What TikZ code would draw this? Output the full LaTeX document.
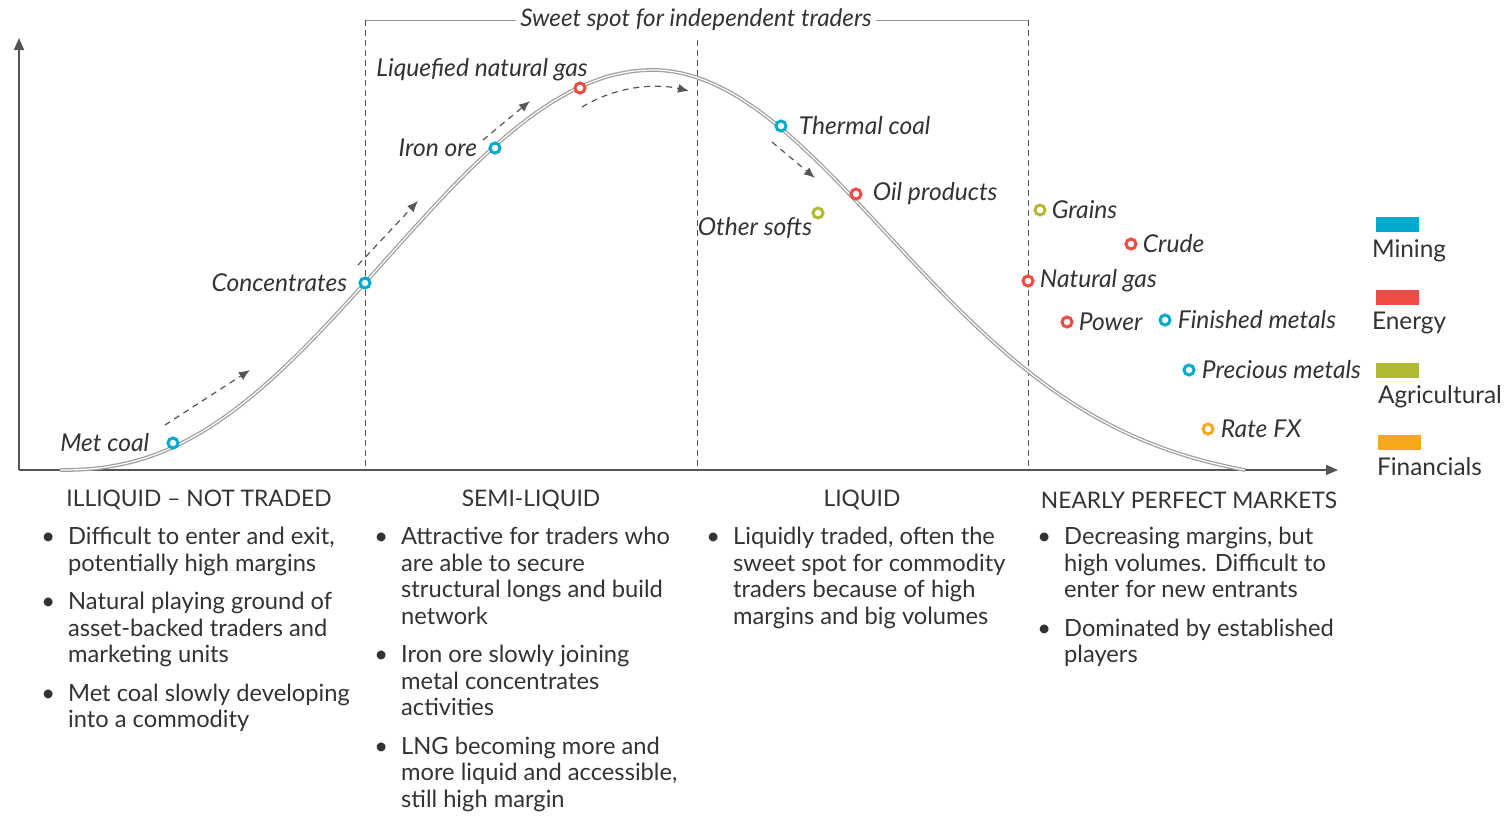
\documentclass[tikz,border=0pt]{standalone}
\usepackage{fontspec}
\setmainfont{Lato}
\usetikzlibrary{arrows.meta,positioning}
\definecolor{ink}{HTML}{333333}
\definecolor{axisgrey}{HTML}{555555}
\definecolor{rulegrey}{HTML}{999999}
\definecolor{curvegrey}{HTML}{A0A0A0}
\definecolor{mining}{HTML}{00A9CE}
\definecolor{energy}{HTML}{EE4C45}
\definecolor{agri}{HTML}{B2B935}
\definecolor{fin}{HTML}{F8A81A}

\begin{document}
\begin{tikzpicture}[x=0.5pt, y=-0.5pt,
    every node/.style={text=ink},
    lbl/.style={font=\fontsize{12.3}{14}\selectfont\itshape, inner sep=1pt},
    dotmark/.style={circle, draw=#1, line width=1.5pt, fill=white, minimum size=5pt, inner sep=0pt},
    flow/.style={draw=axisgrey, line width=0.6pt, dash pattern=on 3pt off 2.5pt, -{Latex[length=5.5pt,width=4.5pt]}},
    head/.style={font=\fontsize{11.4}{13}\selectfont, inner sep=0pt},
    body/.style={font=\fontsize{11.85}{13.25}\selectfont, inner sep=0pt, anchor=north west},
    legbox/.style={minimum width=21.5pt, minimum height=7.5pt, inner sep=0pt, fill=#1},
    legtext/.style={font=\fontsize{12.2}{14}\selectfont, inner sep=0pt}]
    \useasboundingbox (0,0) rectangle (1504,816);

    \coordinate (origin) at (19,470);
    \coordinate (ytip) at (19,38);
    \coordinate (xtip) at (1338,470);
    \draw [axisgrey, line width=0.75pt, -{Triangle[length=6pt,width=5pt]}] (origin) -- (ytip);
    \draw [axisgrey, line width=0.75pt, -{Triangle[length=6pt,width=5pt]}] (origin) -- (xtip);

    \node [font=\fontsize{12.1}{14}\selectfont\itshape, inner sep=2pt] (sweet) at (696,20) {Sweet spot for independent traders};
    \coordinate (sl) at (365,20);
    \coordinate (sr) at (1028,20);
    \draw [rulegrey, line width=0.5pt] (sl) -- (sweet.west);
    \draw [rulegrey, line width=0.5pt] (sweet.east) -- (sr);
    \draw [axisgrey, line width=0.5pt, dash pattern=on 3pt off 2pt] (sl) -- (sl |- origin);
    \draw [axisgrey, line width=0.5pt, dash pattern=on 3pt off 2pt] (sr) -- (sr |- origin);
    \draw [axisgrey, line width=0.5pt, dash pattern=on 3pt off 2pt] (697,40) -- (697,470);

    \draw [curvegrey, line width=0.65pt, double=white, double distance=0.6pt]
        plot [domain=60:652, samples=90, smooth] (\x, {470-400*exp(2.354*ln(max(cos(((\x-652)/592.5)*90),0.01)))})
        -- plot [domain=652:1245, samples=90, smooth] (\x, {470-400*(exp(-0.5*((\x-652)/235)^2)-0.0414)/0.9586});

    \node [dotmark=mining] (metcoal) at (173,443) {};
    \node [dotmark=mining] (conc) at (365,283) {};
    \node [dotmark=mining] (ironore) at (495,148) {};
    \node [dotmark=energy] (lng) at (580,88) {};
    \node [dotmark=mining] (thcoal) at (781,126) {};
    \node [dotmark=energy] (oilprod) at (856,194) {};
    \node [dotmark=agri] (osofts) at (818,213) {};
    \node [dotmark=agri] (grains) at (1040,210) {};
    \node [dotmark=energy] (crude) at (1131,244) {};
    \node [dotmark=energy] (natgas) at (1028,281) {};
    \node [dotmark=energy] (power) at (1067,322) {};
    \node [dotmark=mining] (finmet) at (1165,320) {};
    \node [dotmark=mining] (precmet) at (1189,370) {};
    \node [dotmark=fin] (ratefx) at (1208,429) {};

    \node [lbl, left=7.5pt of metcoal] {Met coal};
    \node [lbl, left=4.5pt of conc] {Concentrates};
    \node [lbl, left=4.5pt of ironore] {Iron ore};
    \node [lbl, anchor=south east] at ([xshift=5pt, yshift=-1pt]lng.north) {Liquefied natural gas};
    \node [lbl, right=4.5pt of thcoal] {Thermal coal};
    \node [lbl, right=4pt of oilprod] {Oil products};
    \node [lbl, anchor=east] at ([xshift=1.5pt, yshift=-7.5pt]osofts.west) {Other softs};
    \node [lbl, right=1.5pt of grains] {Grains};
    \node [lbl, right=1.5pt of crude] {Crude};
    \node [lbl, right=1.5pt of natgas] {Natural gas};
    \node [lbl, right=1.5pt of power] {Power};
    \node [lbl, right=2pt of finmet] {Finished metals};
    \node [lbl, right=2pt of precmet] {Precious metals};
    \node [lbl, right=2pt of ratefx] {Rate FX};

    \coordinate (f1a) at (165,425);
    \coordinate (f1b) at (250,370);
    \coordinate (f2a) at (358,265);
    \coordinate (f2b) at (418,201);
    \coordinate (f3a) at (483,140);
    \coordinate (f3b) at (530,101);
    \coordinate (f4a) at (582,107);
    \coordinate (f4b) at (689,91);
    \coordinate (f5a) at (772,142);
    \coordinate (f5b) at (815,178);
    \draw [flow] (f1a) -- (f1b);
    \draw [flow] (f2a) -- (f2b);
    \draw [flow] (f3a) -- (f3b);
    \draw [flow] (f4a) .. controls (620,84) and (660,84) .. (f4b);
    \draw [flow] (f5a) -- (f5b);

    \node [legbox=mining] (mrect) at (1397.5,224.5) {};
    \node [legbox=energy] (erect) at (1397.5,297) {};
    \node [legbox=agri] (arect) at (1397.5,370) {};
    \node [legbox=fin] (frect) at (1399.5,442.5) {};
    \node [legtext, below right=3.5pt and -2pt of mrect.south west] {Mining};
    \node [legtext, below right=3.5pt and -2pt of erect.south west] {Energy};
    \node [legtext, below right=3.5pt and 1pt of arect.south west] {Agricultural};
    \node [legtext, below right=3.5pt and -0.5pt of frect.south west] {Financials};

    \node [head] (h1) at (199,500) {ILLIQUID -- NOT TRADED};
    \node [head] (h2) at (531,500) {SEMI-LIQUID};
    \node [head] (h3) at (862,500) {LIQUID};
    \node [head] (h4) at (1189,500) {NEARLY PERFECT MARKETS};

    \node [body] (c1) at (41,526) {\begin{tabular}{@{}l@{\hspace{6.5pt}}l@{}}
        \textbullet & Difficult to enter and exit,\\
        & potentially high margins\\[6pt]
        \textbullet & Natural playing ground of\\
        & asset-backed traders and\\
        & marketing units\\[6pt]
        \textbullet & Met coal slowly developing\\
        & into a commodity
    \end{tabular}};
    \node [body] (c2) at (374,526) {\begin{tabular}{@{}l@{\hspace{6.5pt}}l@{}}
        \textbullet & Attractive for traders who\\
        & are able to secure\\
        & structural longs and build\\
        & network\\[6pt]
        \textbullet & Iron ore slowly joining\\
        & metal concentrates\\
        & activities\\[6pt]
        \textbullet & LNG becoming more and\\
        & more liquid and accessible,\\
        & still high margin
    \end{tabular}};
    \node [body] (c3) at (706,526) {\begin{tabular}{@{}l@{\hspace{6.5pt}}l@{}}
        \textbullet & Liquidly traded, often the\\
        & sweet spot for commodity\\
        & traders because of high\\
        & margins and big volumes
    \end{tabular}};
    \node [body] (c4) at (1037,526) {\begin{tabular}{@{}l@{\hspace{6.5pt}}l@{}}
        \textbullet & Decreasing margins, but\\
        & high volumes. Difficult to\\
        & enter for new entrants\\[6pt]
        \textbullet & Dominated by established\\
        & players
    \end{tabular}};
\end{tikzpicture}
\end{document}
